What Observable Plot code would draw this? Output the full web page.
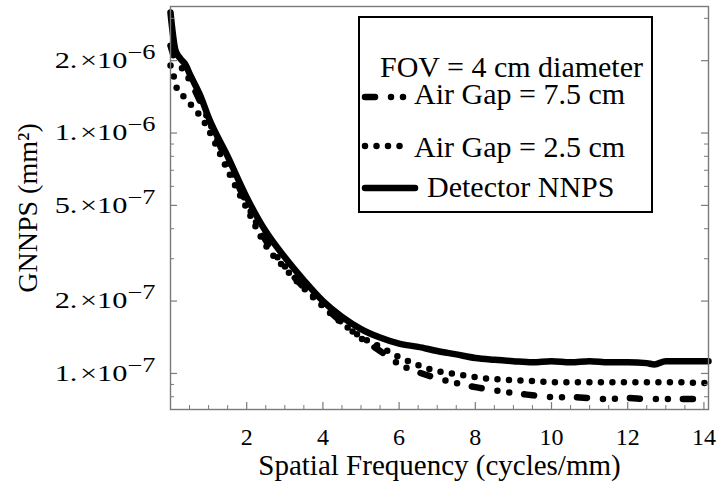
<!DOCTYPE html>
<html><head><meta charset="utf-8">
<script src="https://cdn.jsdelivr.net/npm/d3@7"></script>
<script src="https://cdn.jsdelivr.net/npm/@observablehq/plot@0.6"></script>
<style>
body{margin:0;background:#fff}
#chart{width:725px;height:501px}
</style>
</head><body><div id="chart"></div>
<script>
// ---- data ----
const xDetector = [0, 0.13, 0.26, 0.39, 0.52, 0.8, 1.0, 1.5, 2, 2.5, 3, 3.5, 4, 4.5, 5, 5.5, 6, 6.5, 7, 7.5, 8, 8.5, 9, 9.5, 10, 10.5, 11, 11.5, 12, 12.5, 12.7, 13, 13.5, 14.12];
const yDetector = [3.17e-6, 2.21e-6, 2.04e-6, 1.93e-6, 1.74e-6, 1.41e-6, 1.16e-6, 8.0e-7, 5.4e-7, 3.9e-7, 3.04e-7, 2.44e-7, 2.0e-7, 1.72e-7, 1.53e-7, 1.41e-7, 1.33e-7, 1.29e-7, 1.24e-7, 1.20e-7, 1.16e-7, 1.14e-7, 1.125e-7, 1.114e-7, 1.125e-7, 1.114e-7, 1.125e-7, 1.114e-7, 1.114e-7, 1.104e-7, 1.09e-7, 1.125e-7, 1.125e-7, 1.125e-7];

const xGap25 = [0, 0.1, 0.2, 0.4, 0.6, 0.8, 1.0, 1.5, 2, 2.5, 3, 3.5, 4, 4.5, 5, 5.5, 6, 6.5, 7, 7.5, 8, 8.5, 9, 9.5, 10, 11, 12, 13, 14.12];
const yGap25 = [1.91e-6, 1.69e-6, 1.48e-6, 1.40e-6, 1.27e-6, 1.17e-6, 1.03e-6, 7.0e-7, 4.86e-7, 3.41e-7, 2.74e-7, 2.26e-7, 1.90e-7, 1.62e-7, 1.42e-7, 1.29e-7, 1.17e-7, 1.083e-7, 1.022e-7, 9.93e-8, 9.65e-8, 9.47e-8, 9.38e-8, 9.29e-8, 9.20e-8, 9.20e-8, 9.20e-8, 9.20e-8, 9.11e-8];

const xGap75 = [0, 0.15, 0.3, 0.5, 0.8, 1.0, 1.5, 2, 2.5, 3, 3.5, 4, 4.5, 5, 5.5, 6, 6.5, 7, 7.5, 8, 8.5, 9, 9.5, 10, 10.5, 11, 11.5, 12, 12.5, 13, 13.5, 14.12];
const yGap75 = [2.31e-6, 1.97e-6, 1.86e-6, 1.66e-6, 1.33e-6, 1.13e-6, 7.55e-7, 5.10e-7, 3.58e-7, 2.79e-7, 2.28e-7, 1.92e-7, 1.63e-7, 1.40e-7, 1.24e-7, 1.093e-7, 1.012e-7, 9.56e-8, 9.11e-8, 8.77e-8, 8.52e-8, 8.28e-8, 8.12e-8, 7.97e-8, 7.97e-8, 7.90e-8, 7.82e-8, 7.90e-8, 7.82e-8, 7.82e-8, 7.82e-8, 7.82e-8];

const legendTitle = "FOV = 4 cm diameter";
const seriesNames = ["Air Gap = 7.5 cm", "Air Gap = 2.5 cm", "Detector NNPS"];

const xTickLabels = [2, 4, 6, 8, 10, 12, 14];
const xMinorTicks = [0.5, 1, 1.5, 2.5, 3, 3.5, 4.5, 5, 5.5, 6.5, 7, 7.5, 8.5, 9, 9.5, 10.5, 11, 11.5, 12.5, 13, 13.5];
const yTickLabels = [1e-7, 2e-7, 5e-7, 1e-6, 2e-6];
const yMinorTicks = [8e-8, 9e-8, 3e-7, 4e-7, 6e-7, 7e-7, 8e-7, 9e-7, 3e-6];

const xLabel = "Spatial Frequency (cycles/mm)";
const yLabel = "GNNPS (mm²)";

// ---- styles ----
const lineW = 6.5;
const styles = {
  "Air Gap = 7.5 cm": {strokeDasharray: "10 16 0 12 0 15"},
  "Air Gap = 2.5 cm": {strokeDasharray: "0 11.5"},
  "Detector NNPS": {strokeDasharray: null}
};

const rows = (xs, ys) => xs.map((x, i) => ({x, y: ys[i]}));
const det = rows(xDetector, yDetector);
const g25 = rows(xGap25, yGap25);
const g75 = rows(xGap75, yGap75);

const W = 725, H = 501;
const mL = 170, mR = 17, mT = 6, mB = 92;
const fw = W - mL - mR, fh = H - mT - mB;
const grey = "#7a7a7a";
const serif = "'Liberation Serif', 'Times New Roman', serif";

function fmt(d) {
  const e = Math.floor(Math.log10(d) + 1e-9);
  const m = Math.round(d / Math.pow(10, e));
  return m + ".\u200a\u00d710^\u2212" + (-e);
}

const lineOpts = {x: "x", y: "y", stroke: "black", strokeWidth: lineW, strokeLinecap: "round", strokeLinejoin: "round", curve: "monotone-x"};

const plot = Plot.plot({
  width: W, height: H,
  marginLeft: mL, marginRight: mR, marginTop: mT, marginBottom: mB,
  style: {fontFamily: serif, background: "white", color: "black"},
  x: {domain: [0, 14.12], axis: null},
  y: {type: "log", domain: [7.08e-8, 3.36e-6], axis: null},
  marks: [
    Plot.line(g75, {...lineOpts, strokeDasharray: styles["Air Gap = 7.5 cm"].strokeDasharray}),
    Plot.line(g25, {...lineOpts, strokeDasharray: styles["Air Gap = 2.5 cm"].strokeDasharray}),
    Plot.line(det, {...lineOpts}),
    Plot.frame({stroke: grey, strokeWidth: 1.4}),
    Plot.tickX(xTickLabels, {x: d => d, stroke: grey, strokeWidth: 1.2, insetTop: fh - 7}),
    Plot.tickX(xMinorTicks, {x: d => d, stroke: grey, strokeWidth: 1, insetTop: fh - 4}),
    Plot.tickY(yTickLabels, {y: d => d, stroke: grey, strokeWidth: 1.2, insetRight: fw - 7}),
    Plot.tickY(yMinorTicks, {y: d => d, stroke: grey, strokeWidth: 1, insetRight: fw - 4}),
    Plot.tickY(yTickLabels, {y: d => d, stroke: grey, strokeWidth: 1.2, insetLeft: fw - 7}),
    Plot.tickY(yMinorTicks, {y: d => d, stroke: grey, strokeWidth: 1, insetLeft: fw - 4}),
    Plot.text(xTickLabels, {x: d => d, frameAnchor: "bottom", lineAnchor: "bottom", dy: 35, fontSize: 24, fill: "black"}),
    Plot.text(yTickLabels, {y: d => d, frameAnchor: "left", dx: -15, textAnchor: "end", lineAnchor: "middle", fontSize: 23, fill: "black", text: fmt}),
    Plot.text([xLabel], {frameAnchor: "bottom", lineAnchor: "bottom", textAnchor: "middle", dy: 65, fontSize: 29, fill: "black"}),
    Plot.text([yLabel], {frameAnchor: "left", textAnchor: "middle", lineAnchor: "middle", dx: -142, rotate: -90, fontSize: 28, fill: "black"})
  ]
});

document.getElementById("chart").appendChild(plot);

// superscript exponents on y tick labels, with the reference's wide glyphs
d3.select(plot).selectAll("text").each(function() {
  const t = this.textContent;
  if (t.includes("^")) {
    const [base, ex] = t.split("^");
    const sel = d3.select(this);
    sel.text(null);
    sel.append("tspan").text(base);
    sel.append("tspan").attr("dy", "-9").attr("font-size", 20).text(ex);
    const tr = sel.attr("transform") || "";
    sel.attr("transform", tr + " scale(1.32,1)");
  }
});

// legend box inside the plot
const svg = d3.select(plot);
const lg = svg.append("g").attr("font-family", serif).attr("fill", "black").attr("text-anchor", "start");
lg.append("rect").attr("x", 359).attr("y", 17).attr("width", 293).attr("height", 195)
  .attr("fill", "white").attr("stroke", "black").attr("stroke-width", 2);
lg.append("text").attr("x", 380).attr("y", 77).attr("font-size", 30).attr("text-anchor", "start").text(legendTitle);
const items = [
  {name: seriesNames[0], ly: 97, ty: 104, tx: 414, x2: 409},
  {name: seriesNames[1], ly: 146, ty: 157, tx: 414, x2: 409},
  {name: seriesNames[2], ly: 188, ty: 197, tx: 427, x2: 415}
];
items.forEach(it => {
  const st = styles[it.name];
  const p = lg.append("line").attr("x1", 365).attr("x2", it.x2).attr("y1", it.ly).attr("y2", it.ly)
    .attr("stroke", "black").attr("stroke-width", lineW).attr("stroke-linecap", "round");
  if (st.strokeDasharray) p.attr("stroke-dasharray", st.strokeDasharray);
  lg.append("text").attr("x", it.tx).attr("y", it.ty).attr("font-size", 30).attr("text-anchor", "start").text(it.name);
});
</script>
</body></html>
